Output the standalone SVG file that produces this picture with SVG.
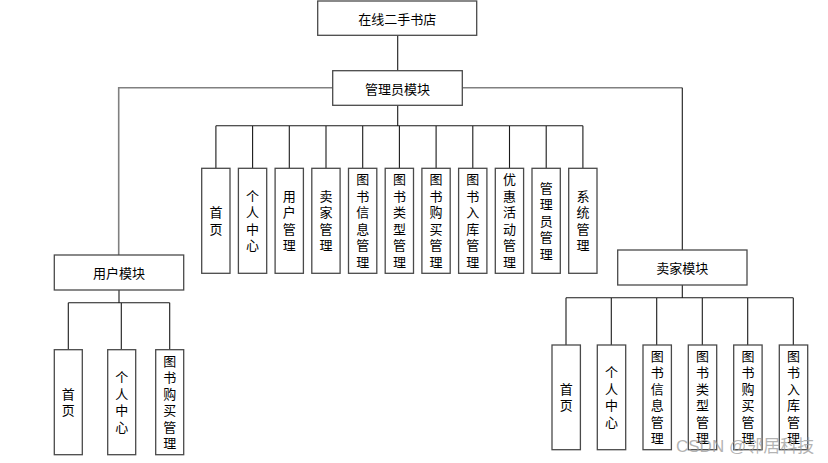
<svg xmlns="http://www.w3.org/2000/svg" width="828" height="463" viewBox="0 0 828 463">
<style>
.box{fill:#fff;stroke:#4a4a4a;stroke-width:1.3}
.ln{fill:none;stroke:#1a1a1a;stroke-width:1.1}
.gl{fill:none;stroke:#808080;stroke-width:1.6}
text{font-family:"Noto Sans CJK SC","Noto Sans",sans-serif;font-size:13px;fill:#000;text-anchor:middle;dominant-baseline:central}
.v{writing-mode:vertical-rl;letter-spacing:3.5px}
.wm{font-family:"Liberation Sans","Noto Sans CJK SC",sans-serif;font-size:17px;fill:#9a9a9a;fill-opacity:0.75;text-anchor:start;dominant-baseline:alphabetic}
</style>
<rect width="828" height="463" fill="#fff"/>
<g id="connectors">
<path class="ln" d="M397.7 35.3V70.7"/>
<path class="gl" d="M332.7 87.7H118.7V255"/>
<path class="gl" d="M462.3 87.7H682.3"/>
<path class="ln" d="M682.3 87.7V250"/>
<path class="ln" d="M397.7 105.3V125.7M215.9 125.7H582.9M215.9 125.7V168.3M252.6 125.7V168.3M289.3 125.7V168.3M326 125.7V168.3M362.7 125.7V168.3M399.4 125.7V168.3M436.1 125.7V168.3M472.8 125.7V168.3M509.5 125.7V168.3M546.2 125.7V168.3M582.9 125.7V168.3"/>
<path class="ln" d="M119 290V302.7M68.3 302.7H169.7M68.3 302.7V349.7M121.3 302.7V349.7M169.7 302.7V349.7"/>
<path class="ln" d="M682.3 285V297.7M566 297.7H793.3M566 297.7V345M611.3 297.7V345M656.7 297.7V345M702.3 297.7V345M747.7 297.7V345M793.3 297.7V345"/>
</g>
<g id="root"><rect class="box" x="317.7" y="1" width="159" height="34.3"/><text x="397.2" y="18.5">在线二手书店</text></g>
<g id="admin"><rect class="box" x="332.7" y="70.7" width="129.6" height="34.6"/><text x="397.5" y="88">管理员模块</text></g>
<g id="admin-home"><rect class="box" x="201.7" y="168.3" width="28.3" height="105"/><text class="v" x="215.9" y="222.5">首页</text></g>
<g id="admin-center"><rect class="box" x="238.4" y="168.3" width="28.3" height="105"/><text class="v" x="252.6" y="222.5">个人中心</text></g>
<g id="admin-user"><rect class="box" x="275.1" y="168.3" width="28.3" height="105"/><text class="v" x="289.3" y="222.5">用户管理</text></g>
<g id="admin-seller"><rect class="box" x="311.8" y="168.3" width="28.3" height="105"/><text class="v" x="326" y="222.5">卖家管理</text></g>
<g id="admin-bookinfo"><rect class="box" x="348.5" y="168.3" width="28.3" height="105"/><text class="v" x="362.7" y="222.5">图书信息管理</text></g>
<g id="admin-booktype"><rect class="box" x="385.2" y="168.3" width="28.3" height="105"/><text class="v" x="399.4" y="222.5">图书类型管理</text></g>
<g id="admin-bookbuy"><rect class="box" x="421.9" y="168.3" width="28.3" height="105"/><text class="v" x="436.1" y="222.5">图书购买管理</text></g>
<g id="admin-bookin"><rect class="box" x="458.6" y="168.3" width="28.3" height="105"/><text class="v" x="472.8" y="222.5">图书入库管理</text></g>
<g id="admin-promo"><rect class="box" x="495.3" y="168.3" width="28.3" height="105"/><text class="v" x="509.5" y="222.5">优惠活动管理</text></g>
<g id="admin-admin"><rect class="box" x="532" y="168.3" width="28.3" height="105"/><text class="v" x="546.2" y="222.5">管理员管理</text></g>
<g id="admin-system"><rect class="box" x="568.7" y="168.3" width="28.3" height="105"/><text class="v" x="582.9" y="222.5">系统管理</text></g>
<g id="user"><rect class="box" x="54.3" y="255" width="129.4" height="35"/><text x="119" y="272.5">用户模块</text></g>
<g id="user-home"><rect class="box" x="54.3" y="349.7" width="28" height="105"/><text class="v" x="68.3" y="404">首页</text></g>
<g id="user-center"><rect class="box" x="107.7" y="349.7" width="28" height="105"/><text class="v" x="121.7" y="404">个人中心</text></g>
<g id="user-bookbuy"><rect class="box" x="155.7" y="349.7" width="28" height="105"/><text class="v" x="169.7" y="404">图书购买管理</text></g>
<g id="seller"><rect class="box" x="617.7" y="250" width="129.3" height="35"/><text x="682.3" y="267.5">卖家模块</text></g>
<g id="seller-home"><rect class="box" x="552" y="345" width="28.4" height="104.7"/><text class="v" x="566.2" y="399">首页</text></g>
<g id="seller-center"><rect class="box" x="597.3" y="345" width="28.4" height="104.7"/><text class="v" x="611.5" y="399">个人中心</text></g>
<g id="seller-bookinfo"><rect class="box" x="643" y="345" width="28.4" height="104.7"/><text class="v" x="657.2" y="399">图书信息管理</text></g>
<g id="seller-booktype"><rect class="box" x="688.3" y="345" width="28.4" height="104.7"/><text class="v" x="702.5" y="399">图书类型管理</text></g>
<g id="seller-bookbuy"><rect class="box" x="733.7" y="345" width="28.4" height="104.7"/><text class="v" x="747.9" y="399">图书购买管理</text></g>
<g id="seller-bookin"><rect class="box" x="779.3" y="345" width="28.4" height="104.7"/><text class="v" x="793.5" y="399">图书入库管理</text></g>
<text class="wm" x="676" y="451.5">CSDN @邻居科技</text>
</svg>
